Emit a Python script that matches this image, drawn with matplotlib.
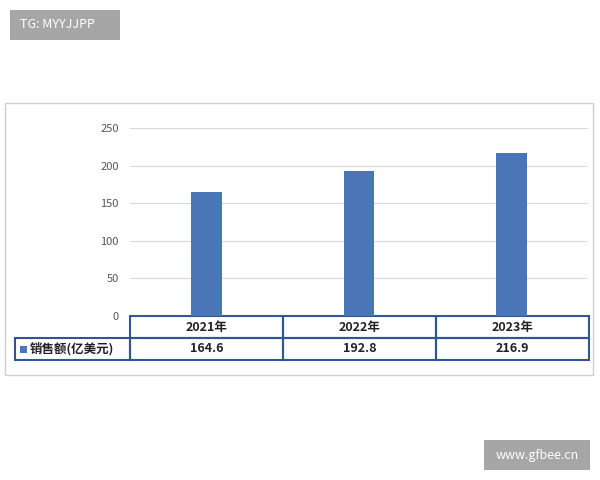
import matplotlib.pyplot as plt
from matplotlib.patches import Rectangle

plt.rcParams['font.family'] = ['Noto Sans CJK SC', 'DejaVu Sans']

years = ['2021年', '2022年', '2023年']
sales = [164.6, 192.8, 216.9]
series_name = '销售额(亿美元)'
yticks = [0, 50, 100, 150, 200, 250]

W, H = 600, 480
fig = plt.figure(figsize=(6, 4.8), dpi=100)

def fx(x): return x / W
def fy(y): return 1 - y / H

blue = '#4a76b8'
edge = '#2f5597'

# chart frame (behind the axes)
fig.patches.append(Rectangle((fx(5), fy(375)), fx(588), 272 / H, transform=fig.transFigure,
                             facecolor='white', edgecolor='#d0d0d0', lw=1, zorder=-5))

ax = fig.add_axes([fx(130), fy(316), fx(458), 188 / H], zorder=2)
ax.patch.set_alpha(0)
x = range(len(years))
ax.bar(x, sales, width=0.2, color=blue, zorder=3)
ax.set_xlim(-0.5, 2.5)
ax.set_ylim(0, 250)
ax.set_yticks(yticks)
ax.tick_params(axis='y', length=0, labelsize=8, colors='#555555', pad=8)
ax.set_xticks([])
ax.grid(axis='y', color='#d9d9d9', lw=0.8)
for s in ax.spines.values():
    s.set_visible(False)

# data table
for r, (top, bot) in enumerate([(316, 338), (338, 360)]):
    for c in range(3):
        x0 = 130 + c * 153
        fig.patches.append(Rectangle((fx(x0), fy(bot)), fx(153), 22 / H, transform=fig.transFigure,
                                     facecolor='none', edgecolor=edge, lw=1.5))
        txt = years[c] if r == 0 else f'{sales[c]:.1f}'
        fig.text(fx(x0 + 76.5), fy((top + bot) / 2), txt, ha='center', va='center',
                 fontsize=9, fontweight='bold', color='#222222')
fig.patches.append(Rectangle((fx(15), fy(360)), fx(115), 22 / H, transform=fig.transFigure,
                             facecolor='none', edgecolor=edge, lw=1.5))
fig.patches.append(Rectangle((fx(20), fy(353)), fx(7), 7 / H, transform=fig.transFigure,
                             facecolor=blue, edgecolor='none'))
fig.text(fx(30), fy(349), series_name, ha='left', va='center', fontsize=9,
         fontweight='bold', color='#222222')

# watermarks
fig.patches.append(Rectangle((fx(10), fy(40)), fx(110), 30 / H, transform=fig.transFigure,
                             facecolor='#a6a6a6', edgecolor='none'))
fig.text(fx(20), fy(25), 'TG: MYYJJPP', ha='left', va='center', fontsize=9, color='white')
fig.patches.append(Rectangle((fx(484), fy(470)), fx(106), 30 / H, transform=fig.transFigure,
                             facecolor='#a6a6a6', edgecolor='none'))
fig.text(fx(537), fy(455), 'www.gfbee.cn', ha='center', va='center', fontsize=9, color='white')

fig.savefig('out.png', dpi=100)
